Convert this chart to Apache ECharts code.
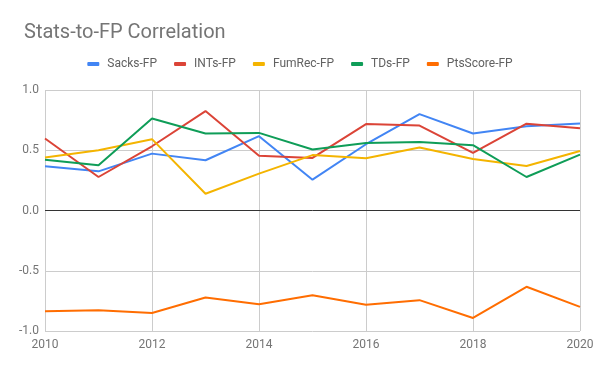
<!DOCTYPE html>
<html>
<head>
<meta charset="utf-8">
<script src="https://cdn.jsdelivr.net/npm/echarts@6/dist/echarts.min.js"></script>
<style>html,body{margin:0;padding:0;background:#fff}#c{width:600px;height:371px}</style>
</head>
<body>
<div id="c"></div>
<script>
var years = [2010, 2011, 2012, 2013, 2014, 2015, 2016, 2017, 2018, 2019, 2020];
var sacks = [0.367, 0.325, 0.472, 0.417, 0.617, 0.256, 0.55, 0.80, 0.639, 0.70, 0.722];
var ints = [0.597, 0.278, 0.533, 0.825, 0.455, 0.436, 0.717, 0.705, 0.478, 0.72, 0.683];
var fumrec = [0.439, 0.50, 0.592, 0.139, 0.306, 0.46, 0.433, 0.522, 0.428, 0.369, 0.494];
var tds = [0.422, 0.375, 0.764, 0.639, 0.644, 0.506, 0.561, 0.569, 0.542, 0.278, 0.464];
var pts = [-0.836, -0.828, -0.85, -0.722, -0.778, -0.703, -0.783, -0.744, -0.892, -0.633, -0.80];
var seriesNames = ['Sacks-FP', 'INTs-FP', 'FumRec-FP', 'TDs-FP', 'PtsScore-FP'];
var colors = ['#4285F4', '#DB4437', '#F4B400', '#0F9D58', '#FF6D01'];
var allData = [sacks, ints, fumrec, tds, pts];

function pairs(arr) { return years.map(function (y, i) { return [y, arr[i]]; }); }

var series = allData.map(function (d, i) {
  var s = {
    name: seriesNames[i], type: 'line', data: pairs(d), symbol: 'none',
    lineStyle: { width: 2, color: colors[i] }, itemStyle: { color: colors[i] }
  };
  if (i === 0) {
    s.markLine = { silent: true, symbol: 'none', label: { show: false },
      lineStyle: { color: '#333', width: 1, type: 'solid' }, data: [{ yAxis: 0 }] };
  }
  return s;
});

var chart = echarts.init(document.getElementById('c'), null, { renderer: 'canvas' });
chart.setOption({
  animation: false,
  color: colors,
  title: { text: 'Stats-to-FP Correlation', left: 19, top: 18,
    textStyle: { fontFamily: 'Roboto', fontSize: 20, fontWeight: 'normal', color: '#757575' } },
  legend: { top: 53, left: 'center', itemWidth: 12, itemHeight: 4, itemGap: 17, icon: 'roundRect',
    textStyle: { fontFamily: 'Roboto', fontSize: 12, color: '#616161', padding: [0, 0, 0, 3] } },
  grid: { left: 45, right: 20, top: 90, bottom: 40 },
  xAxis: { type: 'value', min: 2010, max: 2020, interval: 2,
    axisLine: { show: false }, axisTick: { show: false },
    splitLine: { show: true, lineStyle: { color: '#cccccc' } },
    axisLabel: { formatter: function (v) { return String(v); }, fontFamily: 'Roboto', fontSize: 12, color: '#757575', margin: 8 } },
  yAxis: { type: 'value', min: -1, max: 1, interval: 0.5,
    axisLine: { show: false }, axisTick: { show: false },
    splitLine: { show: true, lineStyle: { color: '#cccccc' } },
    axisLabel: { formatter: function (v) { return v.toFixed(1); }, fontFamily: 'Roboto', fontSize: 12, color: '#757575', margin: 6 } },
  series: series
});
</script>
</body>
</html>
